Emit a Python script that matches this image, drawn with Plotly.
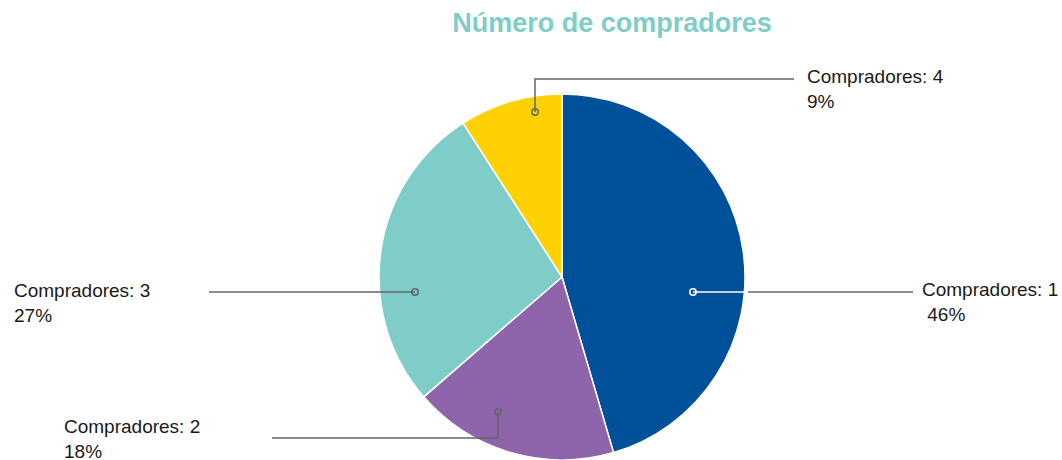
import plotly.graph_objects as go

W, H = 1062, 460

# ---- data ----
categories = ["Compradores: 1", "Compradores: 2", "Compradores: 3", "Compradores: 4"]
values = [45.5, 18.2, 27.3, 9.1]
pct_labels = [" 46%", "18%", "27%", "9%"]
colors = ["#00509A", "#8E65AB", "#7ECDC9", "#FFD100"]

# ---- label / leader-line layout (pixel positions, style only) ----
leaders = [
    dict(dot=(693, 292), path=[(748, 292), (913, 292)], inner=(693, 292, 744, 292), label=(920, 302), inner_color="white", dot_color="white"),
    dict(dot=(498, 412), path=[(498, 412), (498, 438), (272, 438)], inner=None, label=(62, 439), inner_color=None, dot_color="#666666"),
    dict(dot=(415, 292), path=[(415, 292), (209, 292)], inner=None, label=(12, 303), inner_color=None, dot_color="#666666"),
    dict(dot=(535, 112), path=[(535, 112), (535, 79), (794, 79)], inner=None, label=(805, 89), inner_color=None, dot_color="#666666"),
]

def px(x):
    return x / W

def py(y):
    return 1 - y / H

cx, cy, R = 562, 277, 183

fig = go.Figure()
fig.add_trace(go.Pie(
    labels=categories,
    values=values,
    sort=False,
    direction="clockwise",
    rotation=0,
    textinfo="none",
    hoverinfo="label+percent",
    marker=dict(colors=colors, line=dict(color="white", width=1.5)),
    domain=dict(x=[px(cx - R), px(cx + R)], y=[py(cy + R), py(cy - R)]),
    showlegend=False,
))

shapes = []
annotations = []
for cat, pl, ld in zip(categories, pct_labels, leaders):
    pts = ld["path"]
    d = "M " + " L ".join(f"{px(x)},{py(y)}" for x, y in pts)
    shapes.append(dict(type="path", path=d, xref="paper", yref="paper",
                       line=dict(color="#666666", width=1.5)))
    if ld["inner"]:
        x0, y0, x1, y1 = ld["inner"]
        shapes.append(dict(type="line", xref="paper", yref="paper",
                           x0=px(x0), y0=py(y0), x1=px(x1), y1=py(y1),
                           line=dict(color=ld["inner_color"], width=1.5)))
    dx, dy = ld["dot"]
    r = 3.2
    shapes.append(dict(type="circle", xref="paper", yref="paper",
                       x0=px(dx - r), x1=px(dx + r), y0=py(dy + r), y1=py(dy - r),
                       line=dict(color=ld["dot_color"], width=1.5), fillcolor="rgba(0,0,0,0)"))
    lx, ly = ld["label"]
    annotations.append(dict(x=px(lx), y=py(ly), xref="paper", yref="paper",
                            xanchor="left", yanchor="middle", align="left",
                            text=f"{cat}<br>{pl}", showarrow=False,
                            font=dict(family="Liberation Sans, Arial, sans-serif", size=19, color="#1a1a1a")))

fig.update_layout(
    width=W, height=H,
    margin=dict(l=0, r=0, t=0, b=0),
    paper_bgcolor="white",
    plot_bgcolor="white",
    title=dict(text="<b>Número de compradores</b>", x=612 / W, xanchor="center",
               y=1 - 23 / H, yanchor="middle", yref="container",
               font=dict(family="Liberation Sans, Arial, sans-serif", size=27, color="#7ECDC9")),
    shapes=shapes,
    annotations=annotations,
)

fig.write_html("out.html", config={"displayModeBar": False},
               post_script="document.body.style.margin='0';document.body.style.overflow='hidden';")
